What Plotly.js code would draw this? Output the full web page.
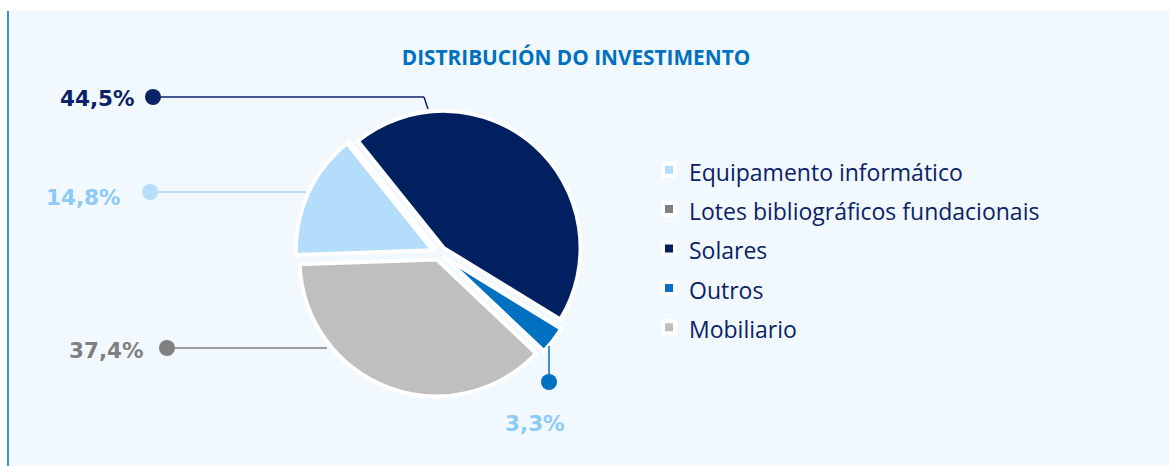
<!DOCTYPE html>
<html><head><meta charset="utf-8">
<script src="https://cdn.plot.ly/plotly-3.0.1.min.js"></script>
<style>html,body{margin:0;padding:0;background:#fff}#chart{width:1169px;height:466px}</style>
</head><body><div id="chart"></div>
<script>
// ---- data ----
const categories = ['Equipamento informático', 'Lotes bibliográficos fundacionais', 'Solares', 'Outros', 'Mobiliario'];
const shares = [14.8, 0, 44.5, 3.3, 37.4];
const chartTitle = 'DISTRIBUCIÓN DO INVESTIMENTO';

// ---- styles ----
const sliceColors = ['#b4ddfc', '#7f7f7f', '#002060', '#0070c0', '#bfbfbf'];
const W = 1169, H = 466;
const px = x => x / W;
const py = y => 1 - y / H;

// callout layout (positions in pixels), index refers to categories
const callouts = [
  {i: 2, tx: 137, ty: 98, anchor: 'right', dot: [153, 97], path: [[153, 97], [424, 97], [428, 109]], tc: '#0b2266', dc: '#0b2266', lw: 1.5},
  {i: 0, tx: 123, ty: 197, anchor: 'right', dot: [150, 192], path: [[150, 192], [306, 192]], tc: '#8ccbf7', dc: '#b8defc', lw: 2},
  {i: 4, tx: 146, ty: 350, anchor: 'right', dot: [167, 348], path: [[167, 348], [327, 348]], tc: '#7f7f7f', dc: '#808080', lw: 1.5},
  {i: 3, tx: 535, ty: 423, anchor: 'center', dot: [549, 382], path: [[549, 346], [549, 382]], tc: '#8ccbf7', dc: '#0070c0', lw: 1.5}
];

const fmt = v => v.toFixed(1).replace('.', ',') + '%';

const cx = 439, cy = 253, r = 137, pull = 0.05;
const half = r * (1 + pull);

const trace = {
  type: 'pie',
  labels: categories.map(c => '<span style="font-size:23px">' + c + '</span>'),
  values: shares,
  sort: false,
  direction: 'clockwise',
  rotation: -92,
  pull: pull,
  textinfo: 'none',
  hoverinfo: 'none',
  marker: {colors: sliceColors, line: {color: '#ffffff', width: 4}},
  domain: {x: [px(cx - half), px(cx + half)], y: [py(cy + half), py(cy - half)]}
};

const shapes = [
  {type: 'rect', xref: 'paper', yref: 'paper', x0: 0, x1: 1, y0: py(11), y1: 1, fillcolor: '#ffffff', line: {width: 0}, layer: 'below'},
  {type: 'rect', xref: 'paper', yref: 'paper', x0: 0, x1: px(7), y0: 0, y1: 1, fillcolor: '#ffffff', line: {width: 0}, layer: 'below'},
  {type: 'rect', xref: 'paper', yref: 'paper', x0: px(7), x1: px(9), y0: 0, y1: py(11), fillcolor: '#3b8ed4', line: {width: 0}, layer: 'below'}
];
const annotations = [];
callouts.forEach(c => {
  for (let k = 0; k < c.path.length - 1; k++) {
    shapes.push({type: 'line', xref: 'paper', yref: 'paper',
      x0: px(c.path[k][0]), y0: py(c.path[k][1]), x1: px(c.path[k + 1][0]), y1: py(c.path[k + 1][1]),
      line: {color: c.dc, width: c.lw}});
  }
  const rr = 8;
  shapes.push({type: 'circle', xref: 'paper', yref: 'paper',
    x0: px(c.dot[0] - rr), x1: px(c.dot[0] + rr), y0: py(c.dot[1] + rr), y1: py(c.dot[1] - rr),
    fillcolor: c.dc, line: {width: 0}});
  annotations.push({xref: 'paper', yref: 'paper', x: px(c.tx), y: py(c.ty), xanchor: c.anchor, yanchor: 'middle',
    showarrow: false, text: fmt(shares[c.i]),
    font: {family: 'DejaVu Sans', size: 21.5, weight: 'bold', color: c.tc}});
});

const layout = {
  width: W, height: H, autosize: false,
  margin: {l: 0, r: 0, t: 0, b: 0, pad: 0},
  paper_bgcolor: '#f1f8fe', plot_bgcolor: '#f1f8fe',
  title: {text: chartTitle, x: px(576), xanchor: 'center', xref: 'container', y: py(58), yanchor: 'middle', yref: 'container',
    font: {family: 'Open Sans', size: 20.8, weight: 'bold', color: '#0070c0'}},
  showlegend: true,
  legend: {x: px(649), xanchor: 'left', y: py(145), yanchor: 'top', bgcolor: 'rgba(0,0,0,0)',
    font: {family: 'Open Sans', size: 28, color: '#0b2266'}},
  shapes: shapes,
  annotations: annotations
};

Plotly.newPlot('chart', [trace], layout, {displayModeBar: false, staticPlot: true});
</script></body></html>
